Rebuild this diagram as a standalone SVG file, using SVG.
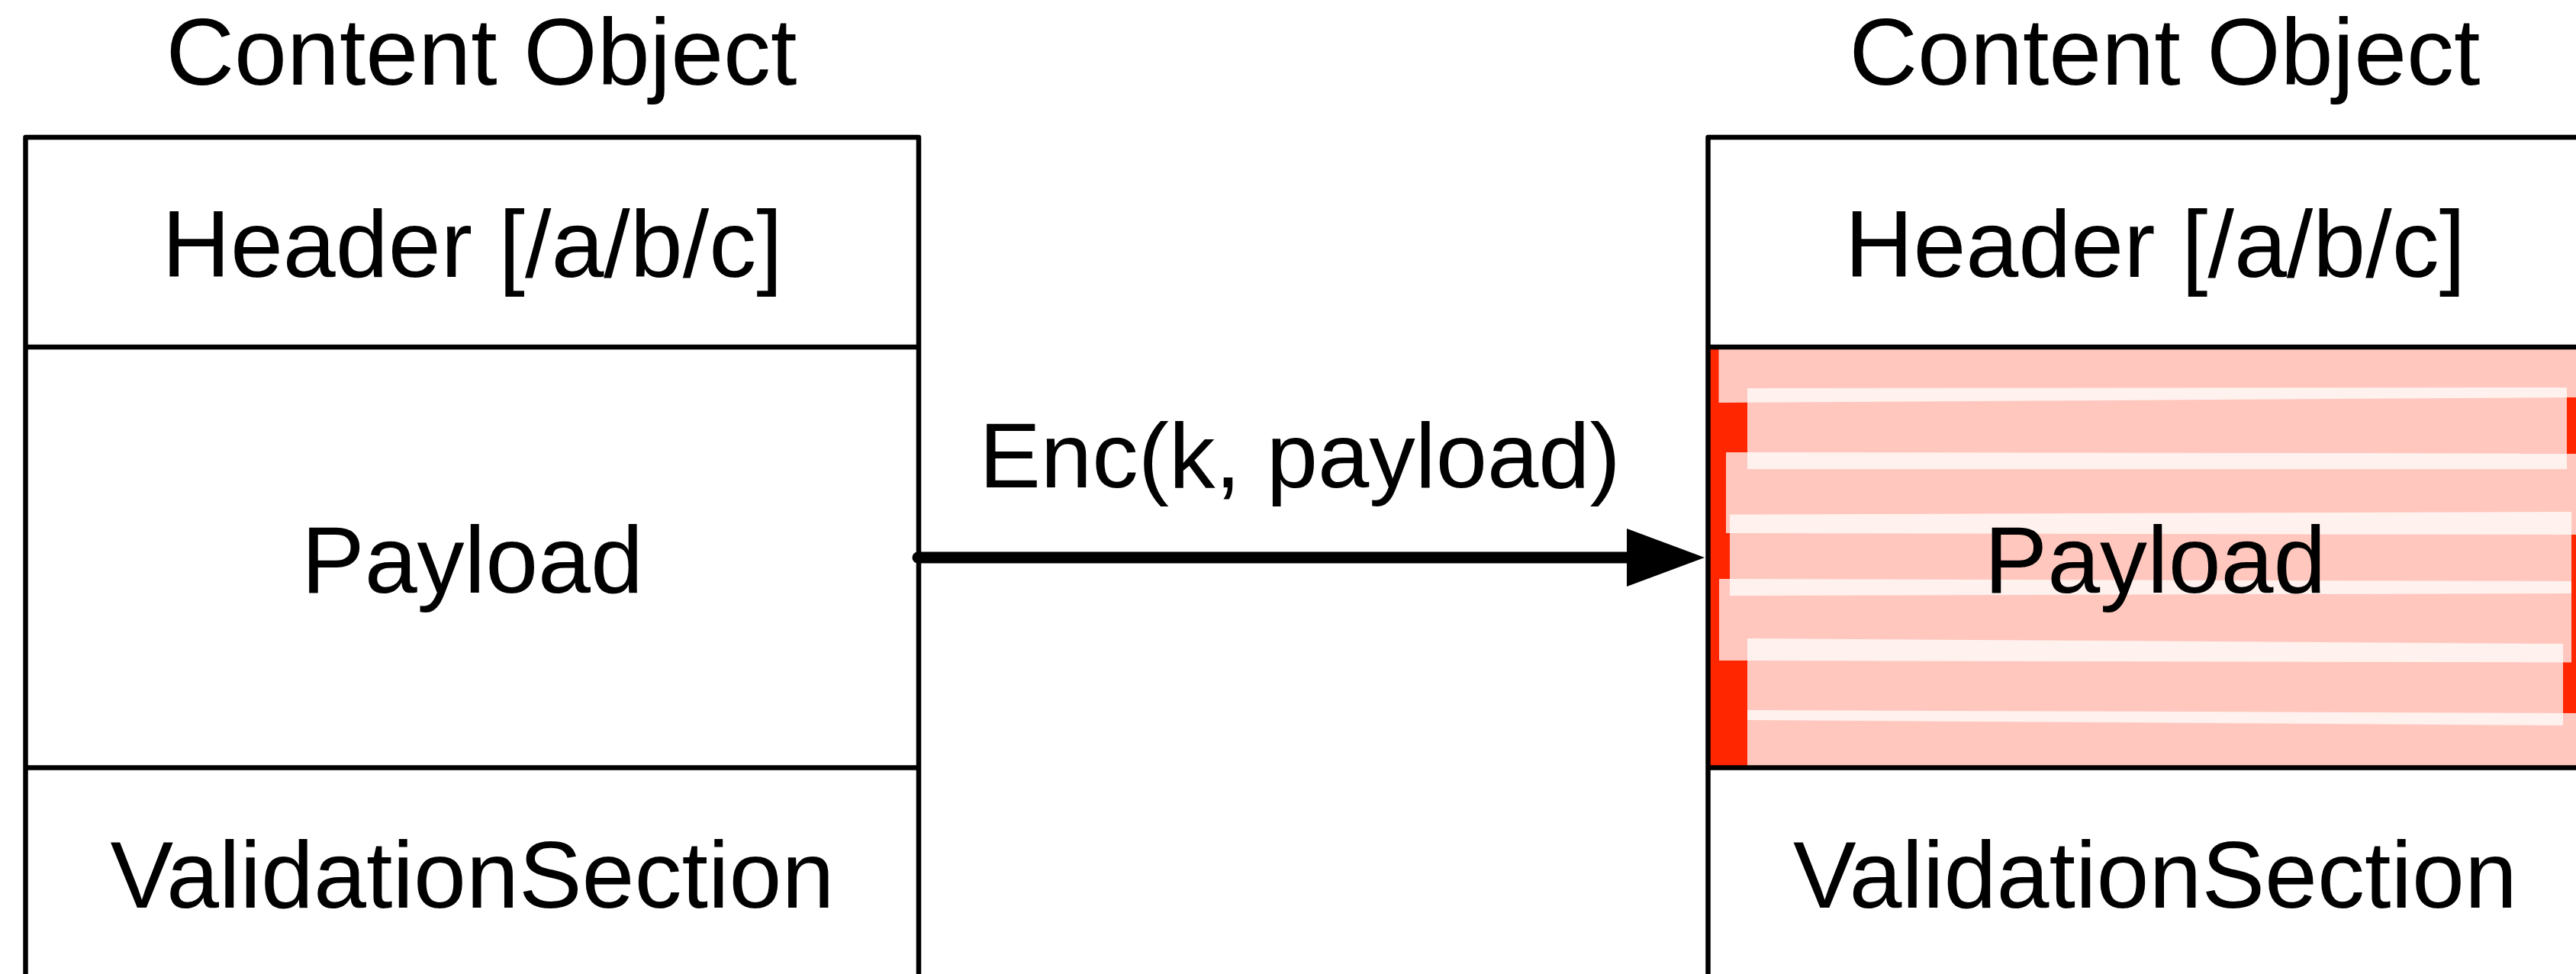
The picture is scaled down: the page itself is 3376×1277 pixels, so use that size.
<svg xmlns="http://www.w3.org/2000/svg" width="3376" height="1277" viewBox="0 0 3376 1277">
  <style>
    .lbl { font-family: "Liberation Sans", Arial, Helvetica, sans-serif; font-size: 124px; fill: #000; text-anchor: middle; }
    .frame { fill: none; stroke: #000; stroke-width: 6.5; stroke-linejoin: round; }
    .div { stroke: #000; stroke-width: 6.5; }
    .wash { fill: #ffffff; fill-opacity: 0.745; }
  </style>
  <defs>
    <clipPath id="payloadClip">
      <rect x="2238.5" y="455" width="1200" height="551.5"/>
    </clipPath>
  </defs>

  <rect width="3376" height="1277" fill="#fff"/>

  <!-- plain content object -->
  <g id="node-plain">
    <text class="lbl" x="631" y="110.7">Content Object</text>
    <path class="frame" d="M33.5,1290 V180 H1204 V1290"/>
    <line class="div" x1="33.5" y1="455" x2="1204" y2="455"/>
    <line class="div" x1="33.5" y1="1006.5" x2="1204" y2="1006.5"/>
    <text class="lbl" x="619" y="363.3">Header [/a/b/c]</text>
    <text class="lbl" x="619" y="777">Payload</text>
    <text class="lbl" x="619" y="1190">ValidationSection</text>
  </g>

  <!-- encrypted content object -->
  <g id="node-encrypted">
    <text class="lbl" x="2837" y="110.7">Content Object</text>
    <!-- scrambled payload: red base with overlapping translucent strokes -->
    <g clip-path="url(#payloadClip)">
      <rect x="2238.5" y="455" width="1200" height="551.5" fill="#ff2600"/>
      <polygon class="wash" points="2252.5,440 3390,440 3390,521 2252.5,528"/>
      <polygon class="wash" points="2290,509 3364,508 3364,615 2290,615"/>
      <polygon class="wash" points="2262,593 3390,594.5 3390,701 2262,699"/>
      <polygon class="wash" points="2267,674.5 3370,671 3370,778 2267,781"/>
      <polygon class="wash" points="2253,759 3370,762 3370,868.5 2253,866"/>
      <polygon class="wash" points="2290,837 3359,844 3359,951 2290,944"/>
      <polygon class="wash" points="2290,931 3390,935 3390,1020 2290,1020"/>
    </g>
    <path class="frame" d="M2238.5,1290 V180 H3420"/>
    <line class="div" x1="2238.5" y1="455" x2="3420" y2="455"/>
    <line class="div" x1="2238.5" y1="1006.5" x2="3420" y2="1006.5"/>
    <text class="lbl" x="2824.5" y="363.3">Header [/a/b/c]</text>
    <text class="lbl" x="2824.5" y="777">Payload</text>
    <text class="lbl" x="2824.5" y="1190">ValidationSection</text>
  </g>

  <!-- connectors -->
  <g id="connectors">
    <line x1="1203" y1="731" x2="2140" y2="731" stroke="#000" stroke-width="15" stroke-linecap="round"/>
    <polygon points="2132,693 2234,731 2132,769" fill="#000"/>
    <text class="lbl" x="1703.5" y="639" style="font-size:121px">Enc(k, payload)</text>
  </g>
</svg>
